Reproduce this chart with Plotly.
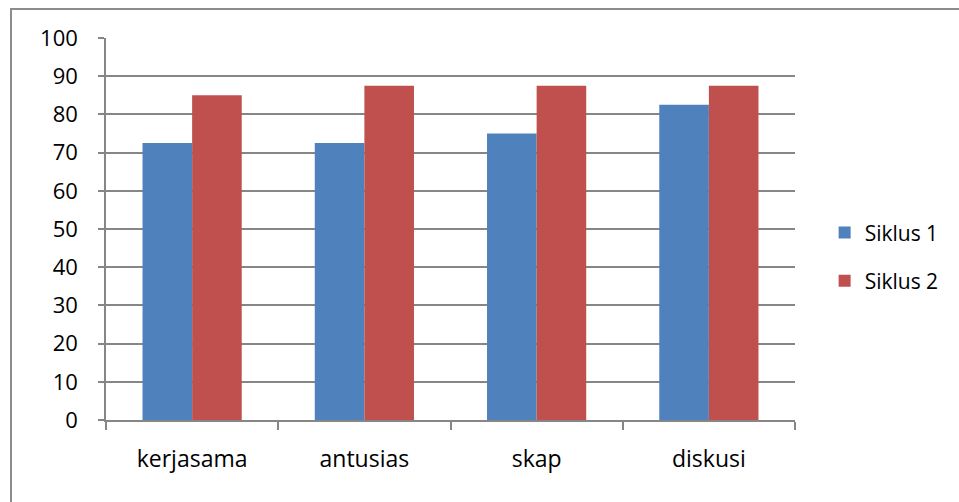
import plotly.graph_objects as go

categories = ["kerjasama", "antusias", "skap", "diskusi"]
siklus1 = [72.5, 72.5, 75, 82.5]
siklus2 = [85, 87.5, 87.5, 87.5]
y_ticks = [0, 10, 20, 30, 40, 50, 60, 70, 80, 90, 100]

FONT = "'Open Sans', sans-serif"
GRID = "#868686"

L, R, T, B = 106, 164, 38, 82
PW = 959 - L - R
PH = 502 - T - B

fig = go.Figure()
fig.add_trace(go.Bar(name="Siklus 1", x=categories, y=siklus1, marker_color="#4F81BD",
                     marker_line_width=0, legendgroup="a"))
fig.add_trace(go.Bar(name="Siklus 2", x=categories, y=siklus2, marker_color="#C0504D",
                     marker_line_width=0, legendgroup="b"))

fig.update_layout(
    width=959, height=502,
    margin=dict(l=L, r=R, t=T, b=B),
    paper_bgcolor="white", plot_bgcolor="white",
    barmode="group", bargap=0.424, bargroupgap=0,
    font=dict(family=FONT, size=22, color="black"),
    showlegend=True,
    legend=dict(x=1.043, y=0.427, xanchor="left", yanchor="middle",
                font=dict(size=21), itemwidth=30, traceorder="grouped", tracegroupgap=18,
                bgcolor="rgba(0,0,0,0)"),
    xaxis=dict(showline=True, linecolor=GRID, linewidth=1.5,
               ticks="outside", tickson="boundaries", ticklen=8, tickcolor=GRID,
               tickwidth=1.5, ticklabelstandoff=18, showgrid=False,
               tickfont=dict(size=23)),
    yaxis=dict(range=[0, 100], tickvals=y_ticks, showline=True, linecolor=GRID,
               linewidth=1.5, ticks="outside", ticklen=6, tickcolor=GRID, tickwidth=1.5,
               showgrid=True, gridcolor=GRID, gridwidth=1.5, zeroline=False,
               ticklabelstandoff=16),
)

fig.add_shape(type="rect", xref="paper", yref="paper",
              x0=(11 - L) / PW, x1=1.5, y0=-0.5, y1=1 + (T - 9) / PH,
              line=dict(color="#8c8c8c", width=2), fillcolor="rgba(0,0,0,0)", layer="below")

fig.write_html("out.html")
